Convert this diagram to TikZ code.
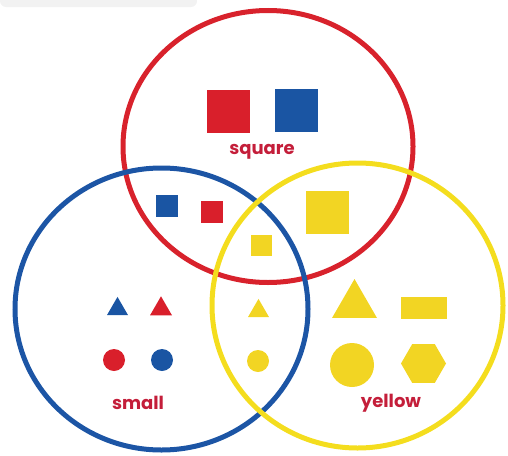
\documentclass[tikz,border=0pt]{standalone}
\usepackage{fontspec}
\setmainfont{Poppins}
\usetikzlibrary{shapes.geometric}
\definecolor{hred}{HTML}{D8222C}
\definecolor{hblue}{HTML}{1C55A5}
\definecolor{hyel}{HTML}{F4DD1E}
\definecolor{sred}{HTML}{D91F2B}
\definecolor{sblue}{HTML}{1A55A3}
\definecolor{syel}{HTML}{F2D523}
\definecolor{txt}{HTML}{C41E3A}
\begin{document}
\begin{tikzpicture}[x=1pt,y=-1pt,
  hoop/.style={line width=5pt},
  sq/.style={rectangle,inner sep=0pt,minimum size=#1},
  tri/.style={isosceles triangle,isosceles triangle apex angle=60,shape border rotate=90,inner sep=0pt,minimum width=#1},
  dot/.style={circle,inner sep=0pt,minimum size=#1},
  lbl/.style={text=txt,font=\bfseries\fontsize{18}{18}\selectfont,inner sep=0pt}]
\useasboundingbox (0,0) rectangle (508,455);
\fill[black!5,rounded corners=6pt] (0,-5) rectangle (197,7);
% hoops
\draw[hoop,hred] (268,146.5) ellipse [x radius=145, y radius=136];
\draw[hoop,hblue] (161.5,309) ellipse [x radius=146.5, y radius=141];
\draw[hoop,hyel] (357.5,305.5) ellipse [x radius=145.5, y radius=142.5];
% red only
\node[sq=43pt,fill=sred] (rsq) at (228.5,111.5) {};
\node[sq=43pt,fill=sblue] (bsq) at (296,110) {};
\node[lbl] (lsq) at (262,152) {square};
% red & blue
\node[sq=22pt,fill=sblue] (bsq2) at (166.5,206) {};
\node[sq=22pt,fill=sred] (rsq2) at (211.5,211.5) {};
% all three
\node[sq=21pt,fill=syel] (ysq2) at (261.5,245) {};
% red & yellow
\node[sq=43pt,fill=syel] (ysq) at (327,212) {};
% blue only
\node[tri=21pt,fill=sblue] (btri) at (117.5,309) {};
\node[tri=22pt,fill=sred] (rtri) at (161,309) {};
\node[dot=22pt,fill=sred] (rdot) at (114,360) {};
\node[dot=22pt,fill=sblue] (bdot) at (162,360) {};
\node[lbl] (lsm) at (138,403) {small};
% blue & yellow
\node[tri=21pt,fill=syel] (ytri2) at (258.5,311) {};
\node[dot=22pt,fill=syel] (ydot2) at (258,361) {};
% yellow only
\node[tri=45pt,fill=syel] (ytri) at (354.5,305) {};
\node[rectangle,inner sep=0pt,minimum width=46pt,minimum height=22pt,fill=syel] (yrect) at (424,308) {};
\node[dot=44pt,fill=syel] (ydot) at (352,365) {};
\node[regular polygon,regular polygon sides=6,inner sep=0pt,minimum size=45pt,shape border rotate=0,fill=syel] (yhex) at (423.5,363.5) {};
\node[lbl] (lye) at (391,403) {yellow};
\end{tikzpicture}
\end{document}
